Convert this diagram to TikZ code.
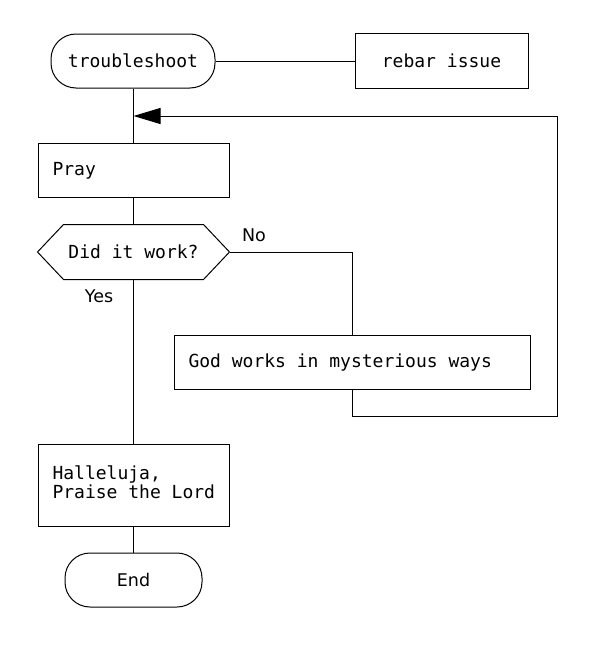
\documentclass[tikz,border=0pt]{standalone}
\usepackage{fontspec}
\setmonofont{DejaVu Sans Mono}
\setsansfont{DejaVu Sans}
\usetikzlibrary{arrows.meta}
\begin{document}
\begin{tikzpicture}[x=1pt,y=-1pt,line width=1pt,
  base/.style={font=\ttfamily\fontsize{18}{19.5}\selectfont,inner sep=0pt},
  term/.style={base,draw,rounded corners=25pt,minimum height=54pt},
  boxl/.style={base,draw,anchor=north west,minimum height=54pt,inner xsep=14pt},
  lbl/.style={font=\sffamily\fontsize{17.5}{20}\selectfont,inner sep=0pt}]
\useasboundingbox (0,0) rectangle (599,653);
\node[term,minimum width=164pt] (ts) at (133,61) {troubleshoot};
\node[base,draw,minimum width=173pt,minimum height=55pt] (rebar) at (441.5,60.5) {rebar issue};
\node[boxl] (pray) at (38,143) {\makebox[163pt][l]{Pray}};
\node[base,minimum width=191pt,minimum height=54pt] (hex) at (133.5,252) {Did it work?};
\draw (hex.west) -- ([xshift=26pt]hex.north west) -- ([xshift=-26pt]hex.north east) -- (hex.east)
  -- ([xshift=-26pt]hex.south east) -- ([xshift=26pt]hex.south west) -- cycle;
\node[boxl] (god) at (174,335) {\makebox[328pt][l]{God works in mysterious ways}};
\node[boxl,minimum height=82pt] (hal) at (38,444)
  {\makebox[163pt][l]{\raisebox{-2pt}{\begin{tabular}{@{}l@{}}Halleluja,\\[-0.5pt]Praise the Lord\end{tabular}}}};
\node[lbl,draw,rounded corners=25pt,minimum height=54pt,minimum width=137pt] (end) at (133.5,580) {End};
\node[lbl] (no) at (254,235) {No};
\node[lbl] (yes) at (99,296) {Yes};
\coordinate (join) at (133.5,116);
\coordinate (loopa) at (352,416);
\coordinate (loopb) at (557,416);
\coordinate (loopc) at (557,116);
\draw (ts.east) -- (ts.east -| rebar.west);
\draw (ts.south) -- (pray.north -| ts.south);
\draw (pray.south -| hex.north) -- (hex.north);
\draw (hex.east) -| (god.north -| loopa);
\draw[-{Triangle[length=27pt,width=16pt]}] (god.south -| loopa) -- (loopa) -- (loopb) -- (loopc) -- (join);
\draw (hex.south) -- (hal.north -| hex.south);
\draw (hal.south -| end.north) -- (end.north);
\end{tikzpicture}
\end{document}
